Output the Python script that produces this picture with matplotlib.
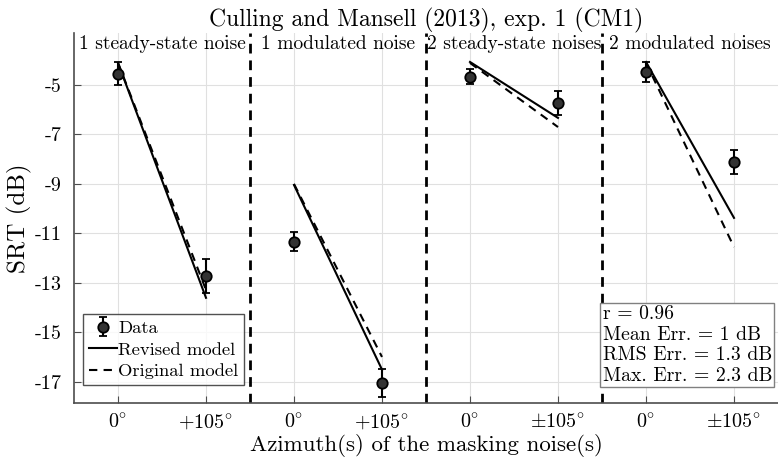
import numpy as np
import matplotlib
matplotlib.use("Agg")
from matplotlib import pyplot as plt

plt.rcParams['font.family'] = 'serif'
plt.rcParams['font.serif'] = ['cmr10']
plt.rcParams['mathtext.fontset'] = 'cm'
plt.rcParams['axes.unicode_minus'] = False
plt.rcParams['axes.formatter.use_mathtext'] = True

# condition labels and tick labels
groups = ["1 steady-state noise", "1 modulated noise",
          "2 steady-state noises", "2 modulated noises"]
tick_labels = [r"$0^{\circ}$", r"$+105^{\circ}$", r"$0^{\circ}$", r"$+105^{\circ}$",
               r"$0^{\circ}$", r"$\pm105^{\circ}$", r"$0^{\circ}$", r"$\pm105^{\circ}$"]

# measured SRTs (dB) with error bars, order: group1 0/105, group2 0/105, ...
data_srt = [-4.55, -12.72, -11.34, -17.04, -4.66, -5.73, -4.47, -8.11]
data_err = [0.47, 0.68, 0.38, 0.55, 0.30, 0.50, 0.41, 0.50]

# model predictions
revised = [-4.11, -13.60, -9.04, -16.50, -4.07, -6.33, -4.07, -10.37]
original = [-4.10, -13.28, -9.00, -15.99, -4.11, -6.70, -4.10, -11.55]

stats = ["r = 0.96", "Mean Err. = 1 dB", "RMS Err. = 1.3 dB", "Max. Err. = 2.3 dB"]

x = np.arange(1, len(data_srt) + 1)

fig = plt.figure(figsize=(7.78, 4.62), dpi=100)
ax = fig.add_axes([74/778, 1 - 403/462, 704/778, 370/462])

for g in range(4):
    i = slice(2*g, 2*g + 2)
    ax.plot(x[i], revised[i], '-', color='k', lw=1.5,
            label="Revised model" if g == 0 else None, zorder=3)
    ax.plot(x[i], original[i], '--', color='k', lw=1.5, dashes=(4, 3),
            label="Original model" if g == 0 else None, zorder=3)

eb = ax.errorbar(x, data_srt, yerr=data_err, fmt='o', ms=7.5, mfc='0.2', mec='k',
                 mew=1.3, ecolor='k', elinewidth=1.5, capsize=3, capthick=1.5,
                 label="Data", zorder=4)

for d in [2.5, 4.5, 6.5]:
    ax.axvline(d, color='k', ls='--', lw=2, dashes=(3.5, 2.5), zorder=2)

for g, name in enumerate(groups):
    ax.text(2*g + 1.5, -3.0, name, ha='center', va='top', fontsize=14)

ax.set_xlim(0.5, 8.5)
ax.set_ylim(-17.85, -2.9)
ax.set_xticks(x)
ax.set_xticklabels(tick_labels, fontsize=14.5)
yt = np.arange(-17, -4, 2)
ax.set_yticks(yt)
ax.set_yticklabels([str(v) for v in yt], fontsize=14.5)
ax.grid(True, color='0.88', lw=0.8)
ax.set_axisbelow(True)
ax.tick_params(direction='in', length=5, color='0.3')
ax.tick_params(axis='x', pad=7)
ax.tick_params(axis='y', pad=9)
for s in ['top', 'right']:
    ax.spines[s].set_visible(False)
for s in ['left', 'bottom']:
    ax.spines[s].set_color('0.3')
    ax.spines[s].set_linewidth(1.2)

ax.set_xlabel("Azimuth(s) of the masking noise(s)", fontsize=16.5, labelpad=1)
ax.set_ylabel("SRT (dB)", fontsize=18, labelpad=2)
ax.set_title("Culling and Mansell (2013), exp. 1 (CM1)", fontsize=17, pad=5)

h, l = ax.get_legend_handles_labels()
order = [l.index("Data"), l.index("Revised model"), l.index("Original model")]
leg = ax.legend([h[k] for k in order], [l[k] for k in order], loc='lower left',
                bbox_to_anchor=(0.0128, 0.049), fontsize=13.4, frameon=True, fancybox=False,
                edgecolor='0.15', handlelength=1.5, handletextpad=0.1,
                borderpad=0.3, labelspacing=0.3, borderaxespad=0)
leg.get_frame().set_linewidth(1.0)

ax.text(0.9915, 0.0486, "\n".join(stats), transform=ax.transAxes, ha='right', va='bottom',
        multialignment='left', fontsize=14.2, linespacing=1.2,
        bbox=dict(boxstyle='square,pad=0.12', fc='white', ec='0.5', lw=1.0))

fig.savefig("out.png", dpi=100)
